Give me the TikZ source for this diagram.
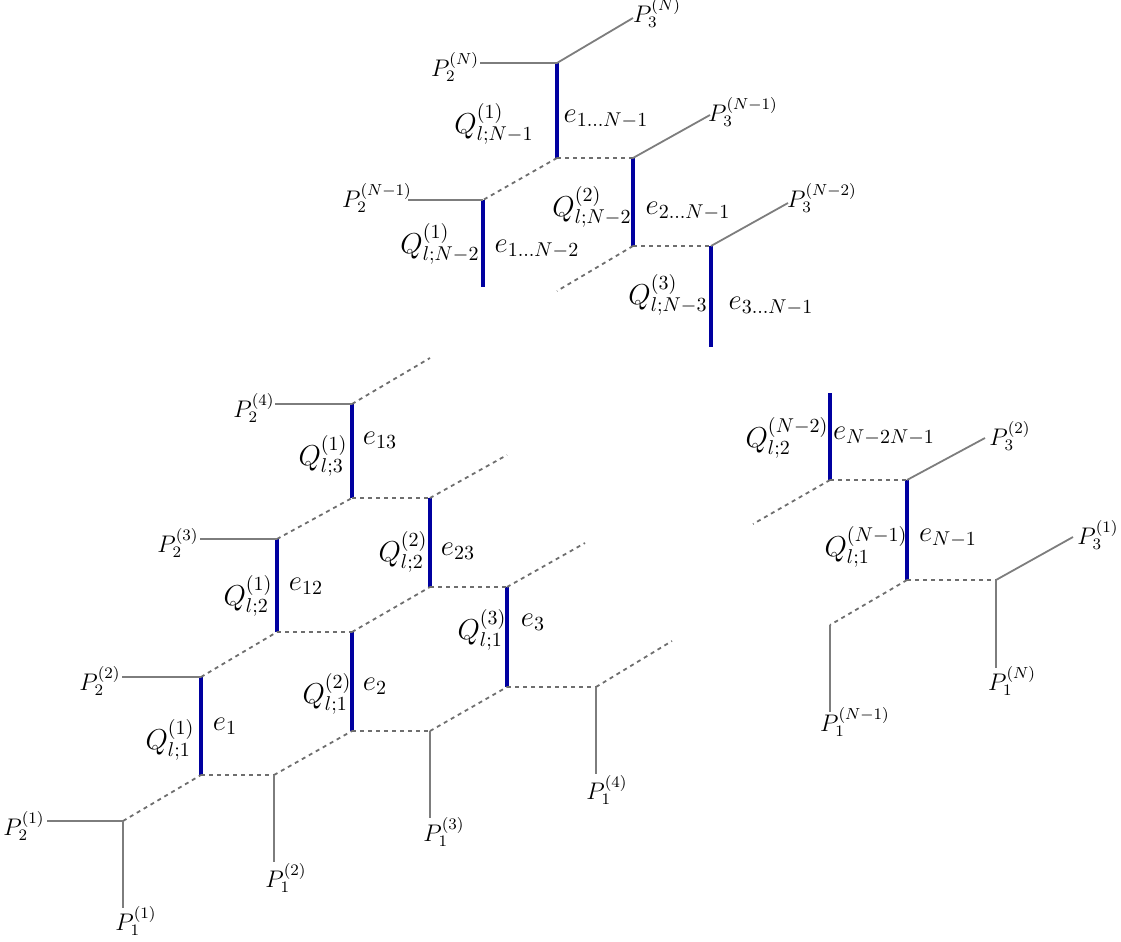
\documentclass[tikz,border=0pt]{standalone}
\begin{document}
\begin{tikzpicture}[x=0.5pt,y=-0.5pt,
  blueedge/.style={draw={rgb,255:red,0;green,0;blue,160}, line width=2pt},
  solidedge/.style={draw={rgb,255:red,125;green,125;blue,125}, line width=0.9pt},
  dashedge/.style={draw={rgb,255:red,110;green,110;blue,110}, line width=0.9pt, dash pattern=on 2pt off 2pt},
  plbl/.style={inner sep=0pt, font=\fontsize{11.5}{13}\selectfont},
  qlbl/.style={inner sep=0pt, font=\fontsize{14.5}{16}\selectfont},
  elbl/.style={inner sep=0pt, font=\fontsize{14.5}{16}\selectfont}]
\useasboundingbox (0,0) rectangle (1121,942);
% ---------- bottom-left block ----------
\coordinate (a0) at (123,821);
\coordinate (b1) at (201,775); \coordinate (t1) at (201,677);
\coordinate (c1) at (274,775);
\coordinate (b12) at (277,632); \coordinate (t12) at (277,539);
\coordinate (b2) at (352,731); \coordinate (t2) at (352,632);
\coordinate (c2) at (430,731);
\coordinate (b13) at (352,498); \coordinate (t13) at (352,404);
\coordinate (b23) at (430,587); \coordinate (t23) at (430,498);
\coordinate (b3) at (507,687); \coordinate (t3) at (507,587);
\coordinate (c3) at (596,687);
\coordinate (f13) at (430,358); \coordinate (f23) at (507,455);
\coordinate (f3) at (585,543); \coordinate (fc3) at (672,641);
\coordinate (ea0) at (123,908); \coordinate (ec1) at (274,862);
\coordinate (ec2) at (430,818); \coordinate (ec3) at (596,774);
\coordinate (h21) at (47,821); \coordinate (h22) at (122,677);
\coordinate (h23) at (200,539); \coordinate (h24) at (275,404);

\path[blueedge] (b1) -- (t1);
\path[blueedge] (b12) -- (t12);
\path[blueedge] (b2) -- (t2);
\path[blueedge] (b13) -- (t13);
\path[blueedge] (b23) -- (t23);
\path[blueedge] (b3) -- (t3);

\path[dashedge] (a0) -- (b1);
\path[dashedge] (b1) -- (c1);
\path[dashedge] (c1) -- (b2);
\path[dashedge] (t1) -- (b12);
\path[dashedge] (b12) -- (t2);
\path[dashedge] (b2) -- (c2);
\path[dashedge] (c2) -- (b3);
\path[dashedge] (t2) -- (b23);
\path[dashedge] (t12) -- (b13);
\path[dashedge] (b13) -- (t23);
\path[dashedge] (b23) -- (t3);
\path[dashedge] (b3) -- (c3);
\path[dashedge] (t13) -- (f13);
\path[dashedge] (t23) -- (f23);
\path[dashedge] (t3) -- (f3);
\path[dashedge] (c3) -- (fc3);

\path[solidedge] (h21) -- (a0);
\path[solidedge] (a0) -- (ea0);
\path[solidedge] (h22) -- (t1);
\path[solidedge] (c1) -- (ec1);
\path[solidedge] (h23) -- (t12);
\path[solidedge] (c2) -- (ec2);
\path[solidedge] (h24) -- (t13);
\path[solidedge] (c3) -- (ec3);

\node[plbl] (P21) at (24,826) {$P_2^{(1)}$};
\node[plbl] (P11) at (136,921) {$P_1^{(1)}$};
\node[plbl] (P22) at (100,681) {$P_2^{(2)}$};
\node[plbl] (P12) at (286,878) {$P_1^{(2)}$};
\node[plbl] (P23) at (178,543) {$P_2^{(3)}$};
\node[plbl] (P13) at (444,832) {$P_1^{(3)}$};
\node[plbl] (P24) at (254,408) {$P_2^{(4)}$};
\node[plbl] (P14) at (607,790) {$P_1^{(4)}$};

\node[qlbl] (Q1) at (170,740) {$Q^{(1)}_{l;1}$};
\node[elbl] (E1) at (225,726) {$e_{1}$};
\node[qlbl] (Q12) at (248,596) {$Q^{(1)}_{l;2}$};
\node[elbl] (E12) at (306,586) {$e_{12}$};
\node[qlbl] (Q21) at (327,694) {$Q^{(2)}_{l;1}$};
\node[elbl] (E2) at (375,686) {$e_{2}$};
\node[qlbl] (Q13) at (323,456) {$Q^{(1)}_{l;3}$};
\node[elbl] (E13) at (380,440) {$e_{13}$};
\node[qlbl] (Q22) at (403,552) {$Q^{(2)}_{l;2}$};
\node[elbl] (E23) at (458,551) {$e_{23}$};
\node[qlbl] (Q31) at (482,630) {$Q^{(3)}_{l;1}$};
\node[elbl] (E3) at (533,622) {$e_{3}$};

% ---------- top block ----------
\coordinate (u1t) at (557,63); \coordinate (u1b) at (557,158);
\coordinate (u2t) at (633,158); \coordinate (u2b) at (633,246);
\coordinate (u0t) at (483,200); \coordinate (u0b) at (483,287);
\coordinate (u3t) at (711,246); \coordinate (u3b) at (711,347);
\coordinate (fu2) at (557,291);
\coordinate (k1) at (633,18); \coordinate (k2) at (710,115); \coordinate (k3) at (788,203);
\coordinate (hN) at (480,63); \coordinate (hN1) at (408,200);

\path[blueedge] (u1t) -- (u1b);
\path[blueedge] (u2t) -- (u2b);
\path[blueedge] (u0t) -- (u0b);
\path[blueedge] (u3t) -- (u3b);
\path[dashedge] (u1b) -- (u2t);
\path[dashedge] (u1b) -- (u0t);
\path[dashedge] (u2b) -- (u3t);
\path[dashedge] (u2b) -- (fu2);
\path[solidedge] (u1t) -- (k1);
\path[solidedge] (u2t) -- (k2);
\path[solidedge] (u3t) -- (k3);
\path[solidedge] (hN) -- (u1t);
\path[solidedge] (hN1) -- (u0t);

\node[plbl] (P3N) at (657,13) {$P_3^{(N)}$};
\node[plbl] (P2N) at (455,67) {$P_2^{(N)}$};
\node[plbl] (P3N1) at (743,112) {$P_3^{(N-1)}$};
\node[plbl] (P2N1) at (377,198) {$P_2^{(N-1)}$};
\node[plbl] (P3N2) at (822,198) {$P_3^{(N-2)}$};
\node[qlbl] (QA) at (494,124) {$Q^{(1)}_{l;N-1}$};
\node[elbl] (EA) at (606,119) {$e_{1\ldots N-1}$};
\node[qlbl] (QB) at (440,244) {$Q^{(1)}_{l;N-2}$};
\node[elbl] (EB) at (537,249) {$e_{1\ldots N-2}$};
\node[qlbl] (QC) at (592,207) {$Q^{(2)}_{l;N-2}$};
\node[elbl] (EC) at (688,211) {$e_{2\ldots N-1}$};
\node[qlbl] (QD) at (668,295) {$Q^{(3)}_{l;N-3}$};
\node[elbl] (ED) at (771,306) {$e_{3\ldots N-1}$};

% ---------- right block ----------
\coordinate (r1t) at (830,393); \coordinate (r1b) at (830,480);
\coordinate (r2t) at (907,480); \coordinate (r2b) at (907,580);
\coordinate (rc) at (996,580); \coordinate (rl) at (830,625);
\coordinate (fr1) at (753,524);
\coordinate (k4) at (985,438); \coordinate (k5) at (1073,537);
\coordinate (erc) at (996,668); \coordinate (erl) at (830,712);

\path[blueedge] (r1t) -- (r1b);
\path[blueedge] (r2t) -- (r2b);
\path[dashedge] (r1b) -- (r2t);
\path[dashedge] (r1b) -- (fr1);
\path[dashedge] (r2b) -- (rc);
\path[dashedge] (r2b) -- (rl);
\path[solidedge] (r2t) -- (k4);
\path[solidedge] (rc) -- (k5);
\path[solidedge] (rc) -- (erc);
\path[solidedge] (rl) -- (erl);

\node[qlbl] (QE) at (787,438) {$Q^{(N-2)}_{l;2}$};
\node[elbl] (EE) at (884,436) {$e_{N-2N-1}$};
\node[plbl] (P32) at (1010,436) {$P_3^{(2)}$};
\node[qlbl] (QF) at (866,547) {$Q^{(N-1)}_{l;1}$};
\node[elbl] (EF) at (948,538) {$e_{N-1}$};
\node[plbl] (P31) at (1098,535) {$P_3^{(1)}$};
\node[plbl] (P1N) at (1012,681) {$P_1^{(N)}$};
\node[plbl] (P1N1) at (855,722) {$P_1^{(N-1)}$};
\end{tikzpicture}
\end{document}
